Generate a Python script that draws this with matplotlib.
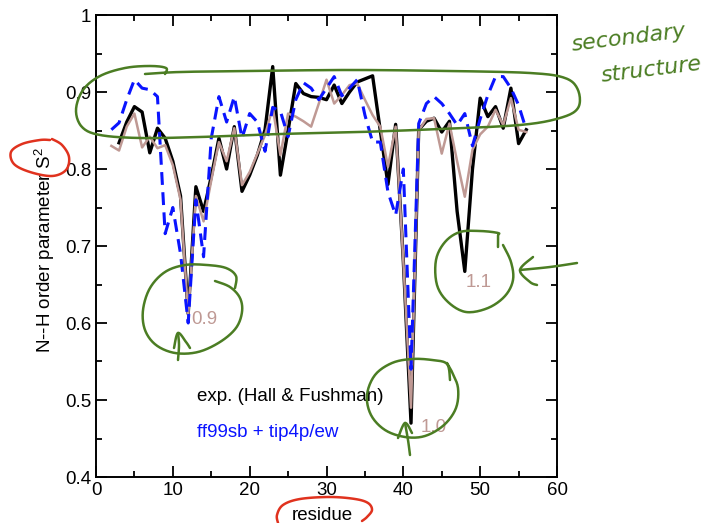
import numpy as np
import matplotlib
matplotlib.use("Agg")
import matplotlib.pyplot as plt
from matplotlib.lines import Line2D

plt.rcParams['font.family'] = ['Liberation Sans', 'DejaVu Sans']
plt.rcParams['mathtext.fontset'] = 'custom'
plt.rcParams['mathtext.rm'] = 'Liberation Sans'
plt.rcParams['mathtext.it'] = 'Liberation Sans:italic'

# ---------------- data ----------------
res_exp = list(range(3, 57))
s2_exp = [0.834, 0.861, 0.881, 0.874, 0.821, 0.853, 0.840, 0.810, 0.765, 0.612,
          0.777, 0.745, 0.790, 0.840, 0.800, 0.855, 0.771, 0.792, 0.818, 0.851,
          0.933, 0.792, 0.850, 0.911, 0.898, 0.894, 0.893, 0.890, 0.909, 0.885,
          0.900, 0.913, 0.917, 0.921, 0.850, 0.780, 0.858, 0.680, 0.470, 0.851,
          0.862, 0.866, 0.848, 0.862, 0.745, 0.667, 0.800, 0.892, 0.868, 0.881,
          0.853, 0.905, 0.833, 0.851]

res_sim = list(range(2, 57))
s2_ff99 = [0.851, 0.860, 0.890, 0.916, 0.905, 0.903, 0.894, 0.716, 0.750, 0.690,
           0.600, 0.760, 0.686, 0.840, 0.894, 0.861, 0.894, 0.840, 0.872, 0.861,
           0.823, 0.880, 0.875, 0.842, 0.890, 0.912, 0.905, 0.890, 0.905, 0.920,
           0.895, 0.905, 0.916, 0.870, 0.835, 0.835, 0.770, 0.740, 0.800, 0.540,
           0.859, 0.885, 0.894, 0.885, 0.872, 0.857, 0.872, 0.830, 0.865, 0.896,
           0.920, 0.920, 0.905, 0.883, 0.851]
s2_scaled = [0.830, 0.824, 0.855, 0.872, 0.828, 0.842, 0.827, 0.831, 0.805, 0.760,
             0.610, 0.765, 0.732, 0.785, 0.835, 0.810, 0.853, 0.779, 0.796, 0.820,
             0.844, 0.880, 0.818, 0.872, 0.868, 0.862, 0.855, 0.885, 0.916, 0.885,
             0.896, 0.909, 0.911, 0.890, 0.870, 0.855, 0.803, 0.855, 0.680, 0.490,
             0.850, 0.865, 0.866, 0.820, 0.859, 0.810, 0.764, 0.825, 0.845, 0.855,
             0.877, 0.857, 0.892, 0.851, 0.848]

scale_labels = ["0.9", "1.0", "1.1"]
scale_label_pos = [(12.4, 0.604), (42.3, 0.464), (48.1, 0.653)]
legend_labels = ["exp. (Hall & Fushman)", "ff99sb + tip4p/ew"]

BROWN = '#bf9994'
GREEN = '#4b7d23'
RED = '#e0321e'
FS = 13.5

W, H = 721, 523
fig = plt.figure(figsize=(W / 100, H / 100), dpi=100)
ax = fig.add_axes([96 / W, 46 / H, 461 / W, 462 / H])

ax.plot(res_exp, s2_exp, color='black', lw=2.4, zorder=3)
ax.plot(res_sim, s2_scaled, color=BROWN, lw=1.8, zorder=4)
ax.plot(res_sim, s2_ff99, color='#0a14ff', lw=2.2, ls=(0, (4.2, 2.4)), zorder=5)

for lab, (xx, yy) in zip(scale_labels, scale_label_pos):
    ax.text(xx, yy, lab, color=BROWN, fontsize=FS, ha='left', va='center', zorder=6)

ax.text(13.2, 0.505, legend_labels[0], color='black', fontsize=FS, ha='left', va='center')
ax.text(13.2, 0.458, legend_labels[1], color='#0a14ff', fontsize=FS, ha='left', va='center')

ax.set_xlim(0, 60)
ax.set_ylim(0.4, 1.0)
ax.set_xticks(np.arange(0, 61, 10))
ax.set_xticks(np.arange(0, 61, 5), minor=True)
ax.set_yticks(np.arange(0.4, 1.001, 0.1))
ax.set_yticks(np.arange(0.4, 1.001, 0.05), minor=True)
ax.set_yticklabels(['0.4', '0.5', '0.6', '0.7', '0.8', '0.9', '1'])
ax.tick_params(which='both', direction='in', top=True, right=True, labelsize=FS, width=1.3)
ax.tick_params(which='major', length=8)
ax.tick_params(which='minor', length=4.5)
for s in ax.spines.values():
    s.set_linewidth(1.4)

ax.set_ylabel('N--H order parameter S$^2$', fontsize=FS)
ax.yaxis.set_label_coords(-0.085, 0.49)
ax.set_xlabel('residue', fontsize=FS)
ax.xaxis.set_label_coords(0.49, -0.065)


# ---------------- hand-drawn annotations ----------------
def smooth(pts, n=12):
    p = np.array(pts, dtype=float)
    p = np.vstack([p[0], p, p[-1]])
    out = []
    for i in range(1, len(p) - 2):
        p0, p1, p2, p3 = p[i - 1], p[i], p[i + 1], p[i + 2]
        for t in np.linspace(0, 1, n, endpoint=False):
            t2, t3 = t * t, t * t * t
            out.append(0.5 * ((2 * p1) + (-p0 + p2) * t + (2 * p0 - 5 * p1 + 4 * p2 - p3) * t2
                              + (-p0 + 3 * p1 - 3 * p2 + p3) * t3))
    out.append(p[-2])
    return np.array(out)


def stroke(pts, color, lw=1.8):
    s = smooth(pts)
    fig.add_artist(Line2D(s[:, 0] / W, 1 - s[:, 1] / H, color=color, lw=lw,
                          solid_capstyle='round', solid_joinstyle='round', zorder=10))


# big "secondary structure" loop
stroke([(165, 74), (166, 68), (150, 66), (125, 68), (100, 76), (83, 90), (76, 110), (82, 127),
        (100, 135), (140, 138), (200, 137), (280, 134), (360, 132), (440, 129), (520, 125),
        (560, 118), (578, 108), (578, 90), (565, 78), (530, 73), (450, 71), (350, 70),
        (250, 71), (180, 72), (145, 74)], GREEN)

# circle near residue 12
stroke([(215, 281), (230, 287), (240, 298), (242, 312), (236, 328), (220, 342), (198, 352),
        (175, 353), (156, 345), (145, 330), (143, 310), (150, 288), (165, 272), (185, 265),
        (207, 265), (226, 268), (236, 276), (235, 288)], GREEN)
stroke([(178, 360), (179, 345), (178, 333)], GREEN)
stroke([(174, 348), (178, 333), (186, 342), (190, 348)], GREEN)

# circle near residue 41
stroke([(447, 363), (452, 372), (458, 388), (456, 408), (444, 425), (425, 436), (405, 437),
        (385, 430), (371, 415), (367, 395), (375, 375), (392, 363), (412, 359), (432, 360),
        (447, 364), (450, 380)], GREEN)
stroke([(410, 455), (408, 440), (405, 423)], GREEN)
stroke([(398, 438), (405, 423), (412, 433)], GREEN)

# circle near residue 48
stroke([(498, 247), (498, 236), (498, 233), (480, 231), (460, 232), (445, 242), (436, 260),
        (437, 285), (448, 302), (466, 312), (488, 308), (505, 296), (513, 280), (511, 262),
        (503, 245)], GREEN)
stroke([(577, 263), (550, 267), (520, 270)], GREEN)
stroke([(533, 257), (520, 270), (530, 282), (537, 285)], GREEN)

# red loop around S^2
stroke([(50, 140), (40, 140), (22, 144), (11, 152), (14, 164), (30, 172), (52, 176),
        (66, 170), (69, 157), (62, 145), (52, 139)], RED)

# red loop around "residue"
stroke([(278, 523), (277, 515), (283, 505), (300, 499), (330, 497), (355, 499), (368, 503),
        (372, 510), (367, 517), (362, 521)], RED)

fig.text(570 / W, 1 - 38 / H, 'secondary', color=GREEN, fontsize=16, style='italic',
         family=['DejaVu Sans'], rotation=7, ha='left', va='center')
fig.text(600 / W, 1 - 70 / H, 'structure', color=GREEN, fontsize=16, style='italic',
         family=['DejaVu Sans'], rotation=7, ha='left', va='center')

fig.savefig('out.png', dpi=100)
